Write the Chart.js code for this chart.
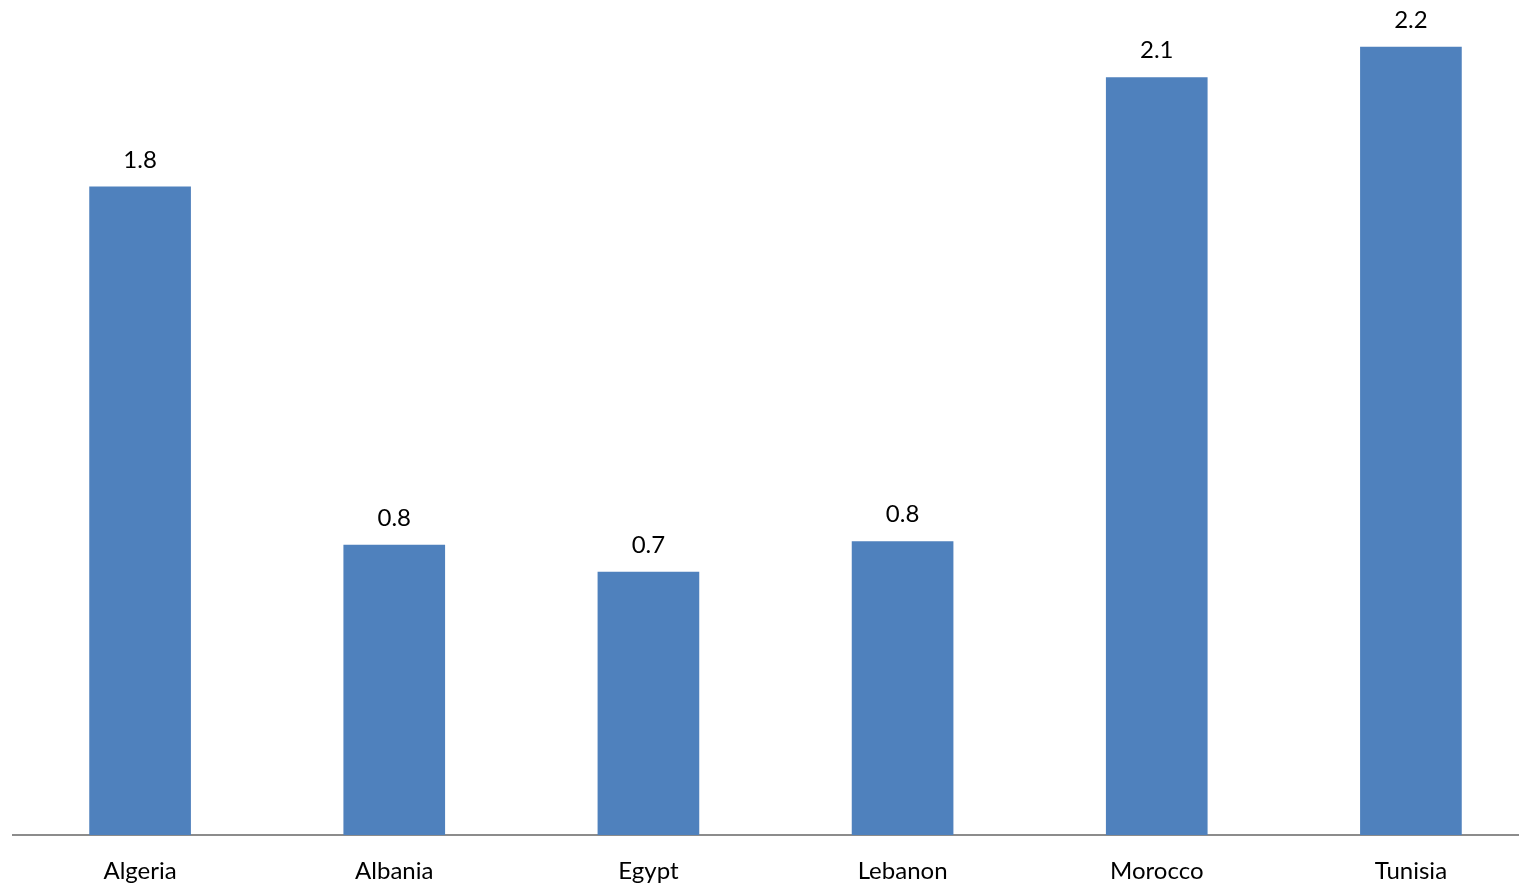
<!DOCTYPE html>
<html>
<head>
<meta charset="utf-8">
<title>Bar chart</title>
<script src="https://cdn.jsdelivr.net/npm/chart.js@4"></script>
<style>
  html, body { margin: 0; padding: 0; background: #fff; overflow: hidden; }
  #wrap { position: absolute; left: 0; top: 0; width: 1540px; height: 889px; }
</style>
</head>
<body>
<div id="wrap"><canvas id="c" width="1540" height="889"></canvas></div>
<script>
const countries = ['Algeria', 'Albania', 'Egypt', 'Lebanon', 'Morocco', 'Tunisia'];
const values = [1.81, 0.81, 0.735, 0.82, 2.115, 2.2];

const FONT = 'Lato, "Open Sans", sans-serif';

// Writes each bar's value (one decimal) just above the bar.
const valueLabels = {
  id: 'valueLabels',
  afterDatasetsDraw(chart) {
    const ctx = chart.ctx;
    const meta = chart.getDatasetMeta(0);
    ctx.save();
    ctx.font = '24px ' + FONT;
    ctx.fillStyle = '#000';
    ctx.textAlign = 'center';
    ctx.textBaseline = 'alphabetic';
    meta.data.forEach((bar, i) => {
      ctx.fillText(values[i].toFixed(1), bar.x, bar.y - 19);
    });
    ctx.restore();
  }
};

new Chart(document.getElementById('c'), {
  type: 'bar',
  data: {
    labels: countries,
    datasets: [{
      data: values,
      backgroundColor: '#4F81BD',
      borderWidth: 0,
      categoryPercentage: 1,
      barPercentage: 0.4
    }]
  },
  options: {
    responsive: false,
    animation: false,
    layout: { padding: { left: 13, right: 2, top: 11, bottom: 0 } },
    plugins: { legend: { display: false }, tooltip: { enabled: false } },
    scales: {
      x: {
        grid: { display: false, drawTicks: false },
        border: { display: true, color: '#8c8c8c', width: 2 },
        ticks: { color: '#000', font: { family: FONT, size: 24 }, padding: 22, maxRotation: 0 },
        afterFit(scale) { scale.height = 54; }
      },
      y: {
        display: false,
        min: 0,
        max: 2.3
      }
    }
  },
  plugins: [valueLabels]
});
</script>
</body>
</html>
